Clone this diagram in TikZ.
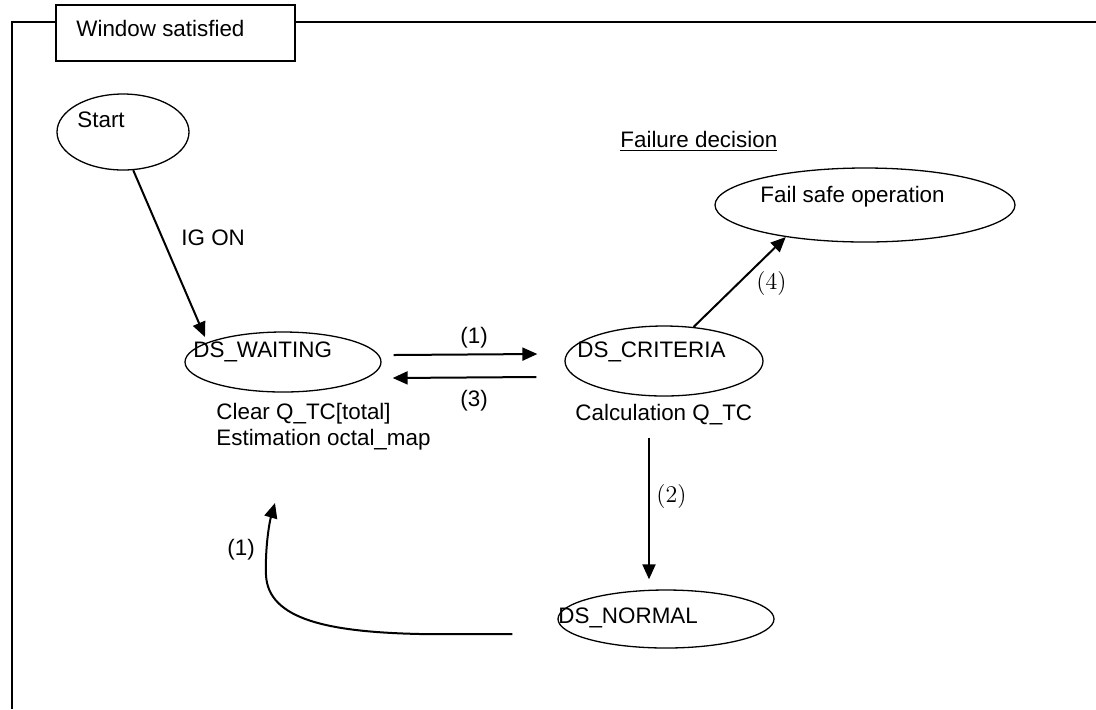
\documentclass[tikz,border=0pt]{standalone}
\usepackage{fontspec}
\setmainfont{Liberation Sans}
\usetikzlibrary{shapes.geometric,arrows.meta}

\begin{document}
\begin{tikzpicture}[x = 0.5pt, y = -0.5pt,
        every node/.style = {font = \fontsize{11.2}{14}\selectfont},
        state/.style = {ellipse, draw, line width = 0.65pt, inner sep = 0pt},
        txt/.style = {anchor = base west, inner sep = 0pt},
        num/.style = {txt, font = \fontsize{12.5}{14}\selectfont},
        flow/.style = {draw, line width = 1pt, -{Triangle[length = 7.5pt, width = 6.5pt]}}]
        \useasboundingbox (0,0) rectangle (1096,709);

        % frame and its title
        \node [draw, line width = 0.65pt, inner sep = 0pt, minimum width = 119.5pt, minimum height = 28pt] (titlebox) at (175.5,33) {};
        \node [txt] (title) at (76,36) {Window satisfied};
        \draw [line width = 0.8pt] (12,709) -- (12,22) -- (titlebox.west |- 0,22);
        \draw [line width = 0.8pt] (titlebox.east |- 0,22) -- (1096,22);

        % states
        \node [state, minimum width = 66pt, minimum height = 38pt] (start) at (123,132) {};
        \node [state, minimum width = 98pt, minimum height = 30pt] (waiting) at (283,362) {};
        \node [state, minimum width = 99pt, minimum height = 35pt] (criteria) at (664,361) {};
        \node [state, minimum width = 150pt, minimum height = 37pt] (failsafe) at (865,205) {};
        \node [state, minimum width = 108pt, minimum height = 29pt] (normal) at (666,619) {};

        % texts
        \node [txt] (startlbl) at (77,127) {Start};
        \node [txt] (waitinglbl) at (193,357) {DS\_WAITING};
        \node [txt] (criterialbl) at (577,357) {DS\_CRITERIA};
        \node [txt] (failsafelbl) at (760,202) {Fail safe operation};
        \node [txt] (normallbl) at (558,623) {DS\_NORMAL};
        \node [txt] (decision) at (620,147) {\underline{Failure decision}};
        \node [txt] (clearlbl) at (216,419) {Clear Q\_TC[total]};
        \node [txt] (estimlbl) at (216,445) {Estimation octal\_map};
        \node [txt] (calclbl) at (575,420) {Calculation Q\_TC};

        % transitions
        \coordinate (backtip) at (275,503);
        \path [every edge/.style = {flow}]
            (start.-75) edge ([shift = {(-39pt,12.5pt)}]waiting.center)
            ([shift = {(6pt,3.5pt)}]waiting.east) edge ([shift = {(-13.5pt,3.5pt)}]criteria.west)
            ([shift = {(-14pt,-8pt)}]criteria.west) edge ([shift = {(5.5pt,-8pt)}]waiting.east)
            (criteria.49) edge (failsafe.202)
            ([shift = {(-7.5pt,-20.5pt)}]criteria.south) edge ([shift = {(-8.5pt,5pt)}]normal.north);
        \path [flow] ([shift = {(-22.5pt,-7.5pt)}]normal.west) -- (420,634)
            .. controls (330,632) and (268,620) .. (266,575)
            .. controls (265,545) and (270,520) .. (backtip);

        \node [txt] (igon) at (181,245) {IG ON};
        \node [txt] (one) at (460,343) {(1)};
        \node [txt] (three) at (460,406) {(3)};
        \node [num] (four) at (756,289) {$(4)$};
        \node [num] (two) at (656,502) {$(2)$};
        \node [txt] (oneback) at (227,555) {(1)};
    \end{tikzpicture}
\end{document}
